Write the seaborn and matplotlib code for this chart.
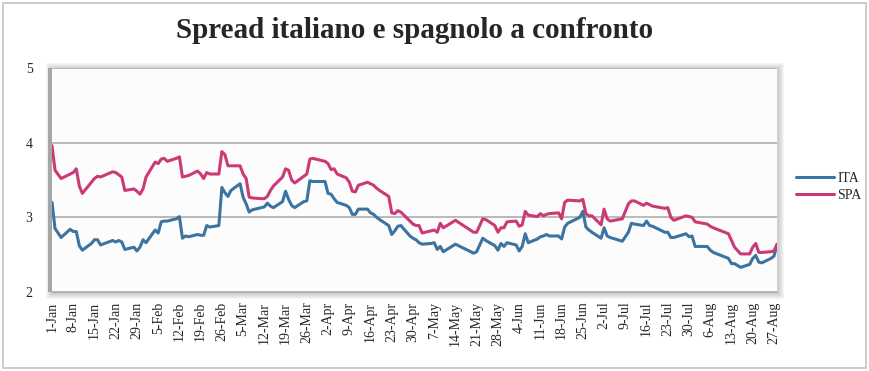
import matplotlib
matplotlib.use("Agg")
import matplotlib.pyplot as plt
from matplotlib.patches import Rectangle
import pandas as pd
import seaborn as sns

# 2013 daily spreads (percentage points)
dates = [
    "2013-01-01", "2013-01-02", "2013-01-04", "2013-01-07", "2013-01-08", "2013-01-09",
    "2013-01-10", "2013-01-11", "2013-01-14", "2013-01-15", "2013-01-16", "2013-01-17",
    "2013-01-21", "2013-01-22", "2013-01-23", "2013-01-24", "2013-01-25", "2013-01-28",
    "2013-01-29", "2013-01-30", "2013-01-31", "2013-02-01", "2013-02-04", "2013-02-05",
    "2013-02-06", "2013-02-07", "2013-02-08", "2013-02-11", "2013-02-12", "2013-02-13",
    "2013-02-14", "2013-02-15", "2013-02-18", "2013-02-19", "2013-02-20", "2013-02-21",
    "2013-02-22", "2013-02-25", "2013-02-26", "2013-02-27", "2013-02-28", "2013-03-01",
    "2013-03-04", "2013-03-05", "2013-03-06", "2013-03-07", "2013-03-08", "2013-03-11",
    "2013-03-12", "2013-03-13", "2013-03-14", "2013-03-15", "2013-03-18", "2013-03-19",
    "2013-03-20", "2013-03-21", "2013-03-22", "2013-03-25", "2013-03-26", "2013-03-27",
    "2013-03-28", "2013-03-29", "2013-04-01", "2013-04-02", "2013-04-03", "2013-04-04",
    "2013-04-05", "2013-04-08", "2013-04-09", "2013-04-10", "2013-04-11", "2013-04-12",
    "2013-04-15", "2013-04-16", "2013-04-17", "2013-04-18", "2013-04-19", "2013-04-22",
    "2013-04-23", "2013-04-24", "2013-04-25", "2013-04-26", "2013-04-29", "2013-04-30",
    "2013-05-01", "2013-05-02", "2013-05-03", "2013-05-06", "2013-05-07", "2013-05-08",
    "2013-05-09", "2013-05-10", "2013-05-14", "2013-05-20", "2013-05-21", "2013-05-23",
    "2013-05-24", "2013-05-27", "2013-05-28", "2013-05-29", "2013-05-30", "2013-05-31",
    "2013-06-03", "2013-06-04", "2013-06-05", "2013-06-06", "2013-06-07", "2013-06-10",
    "2013-06-11", "2013-06-12", "2013-06-13", "2013-06-14", "2013-06-17", "2013-06-18",
    "2013-06-19", "2013-06-20", "2013-06-24", "2013-06-25", "2013-06-26", "2013-06-27",
    "2013-06-28", "2013-07-01", "2013-07-02", "2013-07-03", "2013-07-04", "2013-07-08",
    "2013-07-10", "2013-07-11", "2013-07-12", "2013-07-15", "2013-07-16", "2013-07-17",
    "2013-07-18", "2013-07-22", "2013-07-23", "2013-07-24", "2013-07-25", "2013-07-29",
    "2013-07-30", "2013-07-31", "2013-08-01", "2013-08-05", "2013-08-06", "2013-08-07",
    "2013-08-12", "2013-08-13", "2013-08-14", "2013-08-16", "2013-08-19", "2013-08-20",
    "2013-08-21", "2013-08-22", "2013-08-23", "2013-08-26", "2013-08-27", "2013-08-28",
]

ita = [
    3.20, 2.85, 2.73, 2.84, 2.81, 2.81, 2.62, 2.56, 2.65, 2.70, 2.70, 2.63,
    2.69, 2.67, 2.69, 2.67, 2.57, 2.60, 2.55, 2.60, 2.70, 2.66, 2.83, 2.79,
    2.94, 2.95, 2.95, 2.98, 3.01, 2.72, 2.75, 2.74, 2.77, 2.76, 2.76, 2.89,
    2.87, 2.89, 3.40, 3.33, 3.28, 3.36, 3.45, 3.27, 3.18, 3.07, 3.10, 3.13,
    3.14, 3.19, 3.15, 3.13, 3.21, 3.35, 3.24, 3.16, 3.13, 3.21, 3.22, 3.49,
    3.48, 3.48, 3.48, 3.32, 3.31, 3.25, 3.20, 3.16, 3.13, 3.04, 3.04, 3.11,
    3.11, 3.06, 3.04, 3.00, 2.97, 2.89, 2.77, 2.82, 2.88, 2.89, 2.75, 2.72,
    2.70, 2.66, 2.64, 2.65, 2.66, 2.57, 2.61, 2.54, 2.64, 2.52, 2.54, 2.72,
    2.69, 2.62, 2.56, 2.65, 2.61, 2.66, 2.63, 2.55, 2.61, 2.78, 2.66, 2.71,
    2.74, 2.75, 2.77, 2.75, 2.75, 2.71, 2.87, 2.92, 3.00, 3.08, 2.87, 2.83,
    2.80, 2.72, 2.86, 2.75, 2.73, 2.68, 2.80, 2.92, 2.91, 2.89, 2.95, 2.89,
    2.88, 2.80, 2.80, 2.73, 2.73, 2.78, 2.74, 2.75, 2.61, 2.61, 2.56, 2.53,
    2.45, 2.38, 2.38, 2.33, 2.37, 2.45, 2.49, 2.40, 2.39, 2.45, 2.48, 2.63,
]

spa = [
    3.96, 3.63, 3.52, 3.58, 3.60, 3.65, 3.42, 3.32, 3.47, 3.52, 3.55, 3.54,
    3.61, 3.60, 3.57, 3.54, 3.36, 3.38, 3.35, 3.31, 3.38, 3.54, 3.74, 3.72,
    3.78, 3.79, 3.75, 3.79, 3.81, 3.54, 3.55, 3.56, 3.62, 3.58, 3.52, 3.60,
    3.58, 3.58, 3.88, 3.84, 3.69, 3.69, 3.69, 3.58, 3.52, 3.27, 3.26, 3.25,
    3.25, 3.28, 3.36, 3.42, 3.54, 3.65, 3.63, 3.50, 3.46, 3.55, 3.58, 3.78,
    3.79, 3.78, 3.75, 3.72, 3.64, 3.65, 3.58, 3.53, 3.47, 3.35, 3.34, 3.43,
    3.47, 3.45, 3.43, 3.39, 3.36, 3.28, 3.06, 3.05, 3.09, 3.07, 2.95, 2.91,
    2.89, 2.89, 2.79, 2.82, 2.83, 2.80, 2.92, 2.86, 2.96, 2.80, 2.80, 2.98,
    2.97, 2.89, 2.80, 2.86, 2.86, 2.94, 2.95, 2.88, 2.90, 3.08, 3.03, 3.01,
    3.05, 3.02, 3.04, 3.05, 3.06, 2.98, 3.20, 3.23, 3.22, 3.24, 3.05, 3.02,
    3.02, 2.90, 3.11, 2.98, 2.95, 2.98, 3.18, 3.22, 3.22, 3.16, 3.19, 3.17,
    3.15, 3.12, 3.13, 3.00, 2.96, 3.02, 3.01, 3.00, 2.94, 2.91, 2.88, 2.86,
    2.78, 2.69, 2.60, 2.51, 2.51, 2.60, 2.65, 2.53, 2.53, 2.54, 2.55, 2.64,
]

series_names = ["ITA", "SPA"]
series_colors = ["#3b73a1", "#cc3a75"]

df = pd.DataFrame({"data": pd.to_datetime(dates), "ITA": ita, "SPA": spa})
long_df = df.melt(id_vars="data", var_name="paese", value_name="spread")

sns.set_style("white")
plt.rcParams["font.family"] = ["Liberation Serif", "DejaVu Serif"]

W, H = 869, 371
fig = plt.figure(figsize=(W / 100, H / 100), dpi=100)
left, right, top, bottom = 52, 777, 68, 292
ax = fig.add_axes([left / W, 1 - bottom / H, (right - left) / W, (bottom - top) / H])

# soft drop shadow round the plot area, plus the darker band on the left
for i in range(1, 7):
    fig.patches.append(Rectangle(((left - i) / W, (H - bottom - i - 1) / H),
                                 (right - left + 2 * i + 1) / W, (bottom - top + 2 * i) / H,
                                 transform=fig.transFigure, facecolor="#808080",
                                 edgecolor="none", alpha=0.07, zorder=-2))
fig.patches.append(Rectangle(((left - 4) / W, (H - bottom) / H), 4 / W, (bottom - top) / H,
                             transform=fig.transFigure, facecolor="#a6a6a6",
                             edgecolor="none", zorder=-1))
# figure frame
fig.patches.append(Rectangle((3 / W, 3 / H), (W - 6) / W, (H - 6) / H,
                             transform=fig.transFigure, facecolor="none",
                             edgecolor="#c4c4c4", linewidth=1.2, zorder=-1))

ax.set_facecolor("#fcfcfc")
sns.lineplot(data=long_df, x="data", y="spread", hue="paese", hue_order=series_names,
             palette=series_colors, linewidth=2.2, ax=ax, legend=False)

ax.set_ylim(2, 5)
ax.set_yticks([2, 3, 4, 5])
ax.set_yticklabels(["2", "3", "4", "5"], fontsize=10)
ax.yaxis.grid(True, color="#b5b5b5", linewidth=1.3)
ax.set_axisbelow(True)

start = pd.Timestamp("2013-01-01")
ax.set_xlim(start, pd.Timestamp("2013-08-28"))
week_ticks = pd.date_range(start, "2013-08-27", freq="7D")
ax.set_xticks(week_ticks)
ax.set_xticklabels([f"{d.day}-{d.strftime('%b')}" for d in week_ticks],
                   rotation=90, fontsize=10)
ax.tick_params(axis="x", length=4, color="#a0a0a0", width=1, pad=3)
ax.tick_params(axis="y", length=0, pad=14)
ax.set_xlabel("")
ax.set_ylabel("")
for s in ["top", "left", "right"]:
    ax.spines[s].set_visible(False)
ax.spines["bottom"].set_color("#b0b0b0")

handles = [plt.Line2D([], [], color=c, linewidth=2.2) for c in series_colors]
fig.legend(handles, series_names, loc="center left", bbox_to_anchor=(790 / W, 1 - 187 / H),
           frameon=False, fontsize=10, handlelength=2.8, handletextpad=0.2,
           labelspacing=0.25, borderaxespad=0)

fig.text((left + right) / 2 / W, 1 - 30 / H, "Spread italiano e spagnolo a confronto",
         ha="center", va="center", fontsize=21, fontweight="bold")

fig.savefig("out.png", dpi=100)
